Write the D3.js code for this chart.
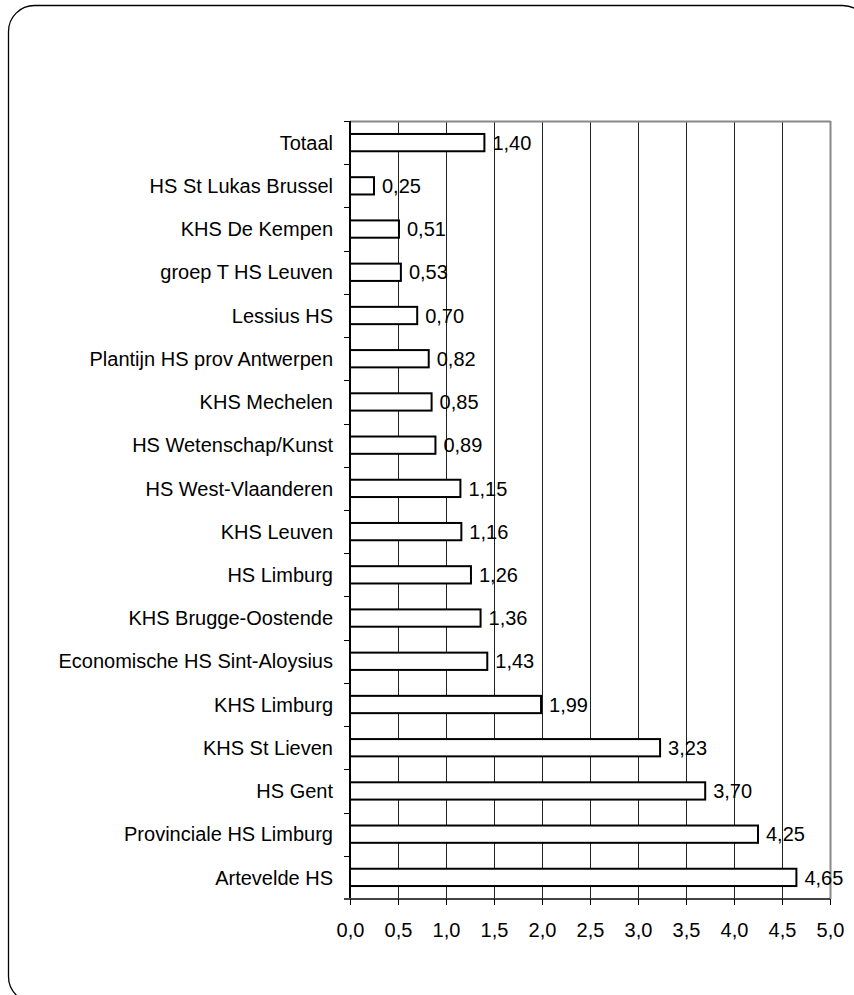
<!DOCTYPE html>
<html><head><meta charset="utf-8">
<script src="https://cdn.jsdelivr.net/npm/d3@7"></script>
<style>html,body{margin:0;padding:0;background:#fff;overflow:hidden}</style>
</head><body>
<svg id="chart" width="854" height="995"></svg>
<script>
const categories = ["Totaal","HS St Lukas Brussel","KHS De Kempen","groep T HS Leuven","Lessius HS","Plantijn HS prov Antwerpen","KHS Mechelen","HS Wetenschap/Kunst","HS West-Vlaanderen","KHS Leuven","HS Limburg","KHS Brugge-Oostende","Economische HS Sint-Aloysius","KHS Limburg","KHS St Lieven","HS Gent","Provinciale HS Limburg","Artevelde HS"];
const values = [1.40,0.25,0.51,0.53,0.70,0.82,0.85,0.89,1.15,1.16,1.26,1.36,1.43,1.99,3.23,3.70,4.25,4.65];
const xTicks = [0,0.5,1,1.5,2,2.5,3,3.5,4,4.5,5];

const svg = d3.select("#chart");
const font = "Liberation Sans, Arial, sans-serif";
const fs = 20;
const fmt = v => d3.format(".1f")(v).replace(".", ",");
const fmt2 = v => d3.format(".2f")(v).replace(".", ",");

// outer frame
svg.append("rect").attr("x",8.5).attr("y",5.5).attr("width",860).attr("height",997)
  .attr("rx",26).attr("ry",26).attr("fill","none").attr("stroke","#000").attr("stroke-width",1.3);

const L=350, R=830, T=121, B=899;
const x = d3.scaleLinear().domain([0,5]).range([L,R]);
const y = d3.scaleBand().domain(categories).range([T,B]).paddingInner(0.6).paddingOuter(0.3);
const yb = d3.scaleBand().domain(categories).range([T,B]);

// gridlines
svg.append("g").selectAll("line").data(xTicks.slice(1,-1)).join("line")
  .attr("x1",d=>Math.round(x(d))+0.5).attr("x2",d=>Math.round(x(d))+0.5)
  .attr("y1",T).attr("y2",B).attr("stroke","#222").attr("stroke-width",1);

// top and right borders
svg.append("line").attr("x1",L).attr("x2",R+0.5).attr("y1",T+0.5).attr("y2",T+0.5).attr("stroke","#888").attr("stroke-width",2);
svg.append("line").attr("x1",R+0.5).attr("x2",R+0.5).attr("y1",T).attr("y2",B).attr("stroke","#888").attr("stroke-width",2);

// bars
svg.append("g").selectAll("rect").data(values).join("rect")
  .attr("x",x(0)).attr("y",(d,i)=>y(categories[i]))
  .attr("width",d=>x(d)-x(0)).attr("height",y.bandwidth())
  .attr("fill","#fff").attr("stroke","#000").attr("stroke-width",2);

// value labels
svg.append("g").selectAll("text").data(values).join("text")
  .attr("x",d=>x(d)+8).attr("y",(d,i)=>y(categories[i])+y.bandwidth()/2)
  .attr("dy","0.36em").attr("font-family",font).attr("font-size",fs).attr("fill","#000")
  .text(d=>fmt2(d));

// left axis
const yAxis = svg.append("g").attr("transform",`translate(${L},0)`);
yAxis.append("line").attr("x1",0).attr("x2",0).attr("y1",T).attr("y2",B).attr("stroke","#000").attr("stroke-width",2);
const bounds = categories.map(c=>yb(c)).concat([B]);
yAxis.selectAll("line.t").data(bounds).join("line").attr("class","t")
  .attr("x1",-6).attr("x2",0).attr("y1",d=>Math.round(d)+0.5).attr("y2",d=>Math.round(d)+0.5)
  .attr("stroke","#000").attr("stroke-width",1);
yAxis.selectAll("text").data(categories).join("text")
  .attr("x",-17).attr("y",d=>yb(d)+yb.bandwidth()/2).attr("dy","0.36em")
  .attr("text-anchor","end").attr("font-family",font).attr("font-size",fs).attr("fill","#000")
  .text(d=>d);

// bottom axis
const xAxis = svg.append("g").attr("transform",`translate(0,${B})`)
  .call(d3.axisBottom(x).tickValues(xTicks).tickFormat(fmt).tickSize(6).tickPadding(18).tickSizeOuter(0));
xAxis.select(".domain").attr("stroke","#444").attr("stroke-width",2).attr("d",`M${L-6},0H${R}`);
xAxis.selectAll(".tick line").attr("stroke","#000");
xAxis.selectAll(".tick text").attr("font-family",font).attr("font-size",fs).attr("fill","#000");
</script>
</body></html>
